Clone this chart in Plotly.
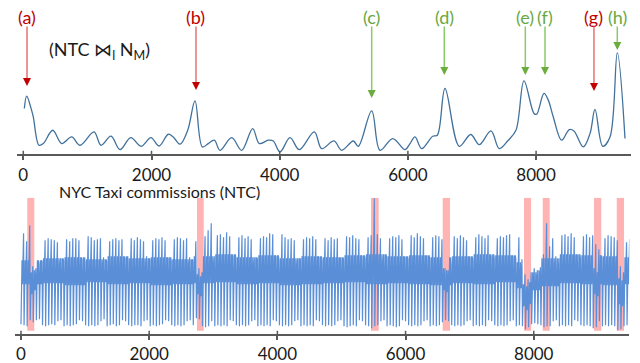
import plotly.graph_objects as go

# ---------------- top panel: join score curve ----------------
score_x = [16, 53, 120, 156, 245, 312, 459, 599, 755, 885, 1103, 1212, 1368, 1509, 1676, 1837,
           1992, 2117, 2262, 2340, 2445, 2565, 2679, 2793, 2886, 2980, 3069, 3251, 3407, 3579,
           3682, 3822, 3900, 4005, 4161, 4306, 4540, 4655, 4847, 4967, 5148, 5226, 5435, 5565,
           5763, 5955, 6033, 6111, 6215, 6387, 6459, 6579, 6802, 6980, 7114, 7296, 7426, 7566,
           7686, 7811, 7967, 8009, 8123, 8190, 8268, 8399, 8518, 8591, 8736, 8841, 8919, 9039,
           9153, 9267, 9387]
score_y = [0.354, 0.45, 0.357, 0.289, 0.07, 0.083, 0.186, 0.083, 0.134, 0.07, 0.173, 0.07, 0.14,
           0.036, 0.129, 0.062, 0.129, 0.064, 0.155, 0.134, 0.078, 0.186, 0.413, 0.057, 0.083,
           0.109, 0.031, 0.129, 0.031, 0.199, 0.083, 0.109, 0.103, 0.018, 0.129, 0.036, 0.173,
           0.044, 0.103, 0.031, 0.103, 0.062, 0.336, 0.031, 0.122, 0.036, 0.083, 0.134, 0.044,
           0.14, 0.147, 0.509, 0.062, 0.153, 0.075, 0.181, 0.044, 0.109, 0.186, 0.568, 0.316,
           0.31, 0.471, 0.419, 0.289, 0.109, 0.191, 0.181, 0.057, 0.16, 0.347, 0.062, 0.134,
           0.785, 0.122]

# discovered events (arrow x, arrow tip height in px from top, label, correct?)
event_labels = ["(a)", "(b)", "(c)", "(d)", "(e)", "(f)", "(g)", "(h)"]
event_x = [58, 2694, 5435, 6568, 7832, 8139, 8903, 9267]
event_tip_px = [86, 90, 98, 75, 75, 75, 91, 50]
event_ok = [False, False, True, True, True, True, False, True]

# ---------------- bottom panel: NYC taxi series ----------------
POINTS_PER_DAY = 48
day_peak = [
    101, 93, 109, 68, 66, 70, 73,
    94, 96, 95, 94, 92, 76, 74,
    95, 93, 96, 96, 94, 75, 72,
    98, 97, 94, 95, 96, 77, 73,
    93, 95, 96, 94, 95, 76, 74,
    96, 94, 97, 95, 93, 78, 75,
    94, 96, 95, 97, 94, 76, 73,
    95, 97, 96, 94, 96, 77, 74,
    93, 66, 62, 98, 104, 111, 78,
    99, 100, 97, 102, 98, 78, 76,
    97, 99, 96, 98, 95, 77, 75,
    96, 98, 97, 101, 100, 78, 74,
    100, 97, 95, 96, 94, 76, 75,
    95, 97, 96, 98, 95, 77, 74,
    96, 94, 97, 95, 96, 76, 75,
    98, 97, 99, 96, 95, 78, 76,
    97, 99, 136, 100, 96, 80, 77,
    96, 98, 97, 99, 95, 77, 75,
    99, 97, 101, 98, 96, 78, 76,
    97, 99, 98, 95, 66, 64, 70,
    98, 96, 99, 97, 94, 77, 75,
    97, 100, 98, 96, 99, 78, 76,
    96, 98, 97, 99, 100, 78, 75,
    97, 75, 60, 55, 62, 66, 64,
    67, 80, 111, 88, 96, 78, 76,
    99, 100, 98, 101, 97, 79, 76,
    98, 100, 97, 99, 90, 85, 77,
    96, 99, 98, 97, 94, 68, 62,
    92, 95,
]
day_trough = [
    10, 9, 8, 14, 12, 14, 15,
    9, 8, 9, 10, 9, 13, 14,
    8, 9, 8, 9, 10, 14, 13,
    9, 8, 9, 8, 9, 13, 15,
    8, 9, 10, 8, 9, 14, 13,
    9, 8, 9, 9, 8, 13, 14,
    8, 9, 8, 9, 10, 14, 13,
    9, 8, 9, 8, 9, 13, 14,
    9, 16, 15, 8, 7, 8, 13,
    8, 9, 8, 9, 8, 14, 13,
    9, 8, 9, 8, 9, 13, 14,
    8, 9, 8, 9, 8, 14, 13,
    9, 8, 9, 8, 9, 13, 14,
    8, 9, 8, 9, 8, 14, 13,
    9, 8, 9, 8, 9, 13, 14,
    8, 7, 8, 9, 8, 14, 13,
    9, 8, 6, 8, 9, 13, 14,
    8, 9, 8, 7, 8, 14, 13,
    9, 8, 9, 8, 9, 13, 14,
    8, 9, 8, 9, 12, 14, 13,
    9, 8, 9, 8, 9, 13, 14,
    8, 9, 8, 9, 8, 14, 13,
    9, 8, 9, 8, 9, 13, 14,
    8, 9, 8, 5, 7, 10, 11,
    10, 9, 7, 8, 8, 13, 14,
    8, 9, 8, 9, 8, 14, 13,
    9, 8, 9, 8, 6, 7, 13,
    8, 9, 8, 9, 8, 4, 5,
    8, 9,
]
# dense daytime band, one value per week
week_band_hi = [74, 76, 77, 75, 78, 76, 77, 75, 78, 80, 77, 79, 76, 78, 77, 79, 80, 78,
                79, 77, 78, 80, 79, 72, 76, 80, 79, 78, 77]
week_band_lo = [50, 51, 49, 52, 50, 51, 49, 50, 51, 52, 50, 51, 49, 50, 51, 52, 50, 51,
                50, 49, 51, 50, 52, 46, 48, 51, 50, 49, 50]
# days whose daytime band departs from the week's level
band_override = {3: (40, 62), 4: (44, 64), 57: (40, 60), 58: (38, 58), 137: (44, 66),
                 138: (42, 64), 163: (28, 50), 164: (24, 48), 165: (30, 52), 166: (44, 62),
                 167: (44, 62), 168: (44, 64), 186: (40, 66), 187: (38, 62), 194: (30, 56),
                 195: (28, 54)}

# highlighted anomaly windows
anom_start = [98, 2746, 5461, 6580, 7848, 8140, 8940, 9295]
anom_end = [207, 2851, 5581, 6694, 7958, 8249, 9054, 9409]

tick_vals = [0, 2000, 4000, 6000, 8000]
tick_text = ["0", "2000", "4000", "6000", "8000"]

# build taxi trace from the daily readings
taxi_x, taxi_y = [], []
for d in range(len(day_peak)):
    lo, hi = band_override.get(d, (week_band_lo[d // 7], week_band_hi[d // 7]))
    vals = [day_trough[d], lo, hi, lo, hi, day_peak[d]]
    step = POINTS_PER_DAY // len(vals)
    for k, v in enumerate(vals):
        taxi_x.append(d * POINTS_PER_DAY + k * step)
        taxi_y.append(v)

W, H = 640, 363
TOP_AXIS_PX, TOP_TOP_PX = 154.3, 25
BOT_AXIS_PX, BOT_TOP_PX = 334.3, 197.7
def py(p):
    return (H - p) / H

FONT = "Lato"
AXC = "#595959"

fig = go.Figure()
fig.add_trace(go.Scatter(x=score_x, y=score_y, mode="lines",
                         line=dict(color="#41719C", width=1.3, shape="spline", smoothing=1.0),
                         xaxis="x", yaxis="y", hoverinfo="skip"))
fig.add_trace(go.Scatter(x=taxi_x, y=taxi_y, mode="lines",
                         line=dict(color="#5A8FD8", width=1.2),
                         xaxis="x2", yaxis="y2", hoverinfo="skip"))

axis_common = dict(showline=True, linecolor=AXC, linewidth=1.6, ticks="outside", ticklen=4,
                   tickwidth=1.5, tickcolor=AXC, tickvals=tick_vals, ticktext=tick_text,
                   showgrid=False, zeroline=False, automargin=False,
                   tickfont=dict(family=FONT, size=17, color="#1a1a1a"))

fig.update_layout(
    width=W, height=H, margin=dict(l=0, r=0, t=0, b=0, autoexpand=False),
    paper_bgcolor="white", plot_bgcolor="white", showlegend=False,
    xaxis=dict(domain=[17.3 / W, 630.7 / W], range=[-93.6, 9476], anchor="y",
               ticklabelstandoff=0, **axis_common),
    yaxis=dict(domain=[py(TOP_AXIS_PX), py(TOP_TOP_PX)], range=[0, 1], visible=False),
    xaxis2=dict(domain=[15 / W, 629.3 / W], range=[-93.6, 9491], anchor="y2",
                ticklabelstandoff=-1, **axis_common),
    yaxis2=dict(domain=[py(BOT_AXIS_PX), py(BOT_TOP_PX)], range=[0, BOT_AXIS_PX - BOT_TOP_PX],
                visible=False),
)

shapes = []
for s, e in zip(anom_start, anom_end):
    shapes.append(dict(type="rect", xref="x2", yref="y2", x0=s, x1=e, y0=3.6,
                       y1=BOT_AXIS_PX - BOT_TOP_PX, fillcolor="#FFB3B3", line=dict(width=0),
                       layer="below"))
for t in tick_vals:
    shapes.append(dict(type="line", xref="x", yref="paper", x0=t, x1=t,
                       y0=py(TOP_AXIS_PX), y1=py(TOP_AXIS_PX - 3.5),
                       line=dict(color=AXC, width=1.5)))
    shapes.append(dict(type="line", xref="x2", yref="paper", x0=t, x1=t,
                       y0=py(BOT_AXIS_PX), y1=py(BOT_AXIS_PX - 3.5),
                       line=dict(color=AXC, width=1.5)))
fig.update_layout(shapes=shapes)

RED_TXT, RED_SHAFT, RED_HEAD = "#C00000", "#E57373", "#C00000"
GRN_TXT, GRN_SHAFT, GRN_HEAD = "#6AA842", "#8CC96A", "#6AAD3E"
HEAD = 7
annotations = []
for lab, x, tip, ok in zip(event_labels, event_x, event_tip_px, event_ok):
    txt, shaft, head = (GRN_TXT, GRN_SHAFT, GRN_HEAD) if ok else (RED_TXT, RED_SHAFT, RED_HEAD)
    annotations.append(dict(x=x, xref="x", y=py(17), yref="paper", text=lab, showarrow=False,
                            xanchor="center", yanchor="middle",
                            font=dict(family=FONT, size=18, color=txt)))
    # shaft
    annotations.append(dict(x=x, xref="x", y=py(tip - 4), yref="paper", ax=0,
                            ay=-(tip - 4 - 25), axref="pixel", ayref="pixel", text="",
                            showarrow=True, arrowhead=0, arrowwidth=1.5, arrowcolor=shaft))
    # head
    annotations.append(dict(x=x, xref="x", y=py(tip), yref="paper", ax=0, ay=-HEAD,
                            text="", showarrow=True, arrowhead=2, arrowsize=1.0,
                            arrowwidth=1.6, arrowcolor=head))

annotations.append(dict(x=99 / W, xref="paper", y=py(51), yref="paper",
                        xanchor="center", yanchor="middle",
                        text="(NTC ⋈<sub>l</sub> N<sub>M</sub>)", showarrow=False,
                        font=dict(family=FONT, size=18, color="#1a1a1a")))
annotations.append(dict(x=159 / W, xref="paper", y=py(191.5), yref="paper",
                        xanchor="center", yanchor="middle",
                        text="NYC Taxi commissions (NTC)", showarrow=False,
                        font=dict(family=FONT, size=16, color="#1a1a1a")))
fig.update_layout(annotations=annotations)

fig.write_html("out.html", config={"displayModeBar": False},
               post_script="document.body.style.margin='0px';document.body.style.overflow='hidden';")
